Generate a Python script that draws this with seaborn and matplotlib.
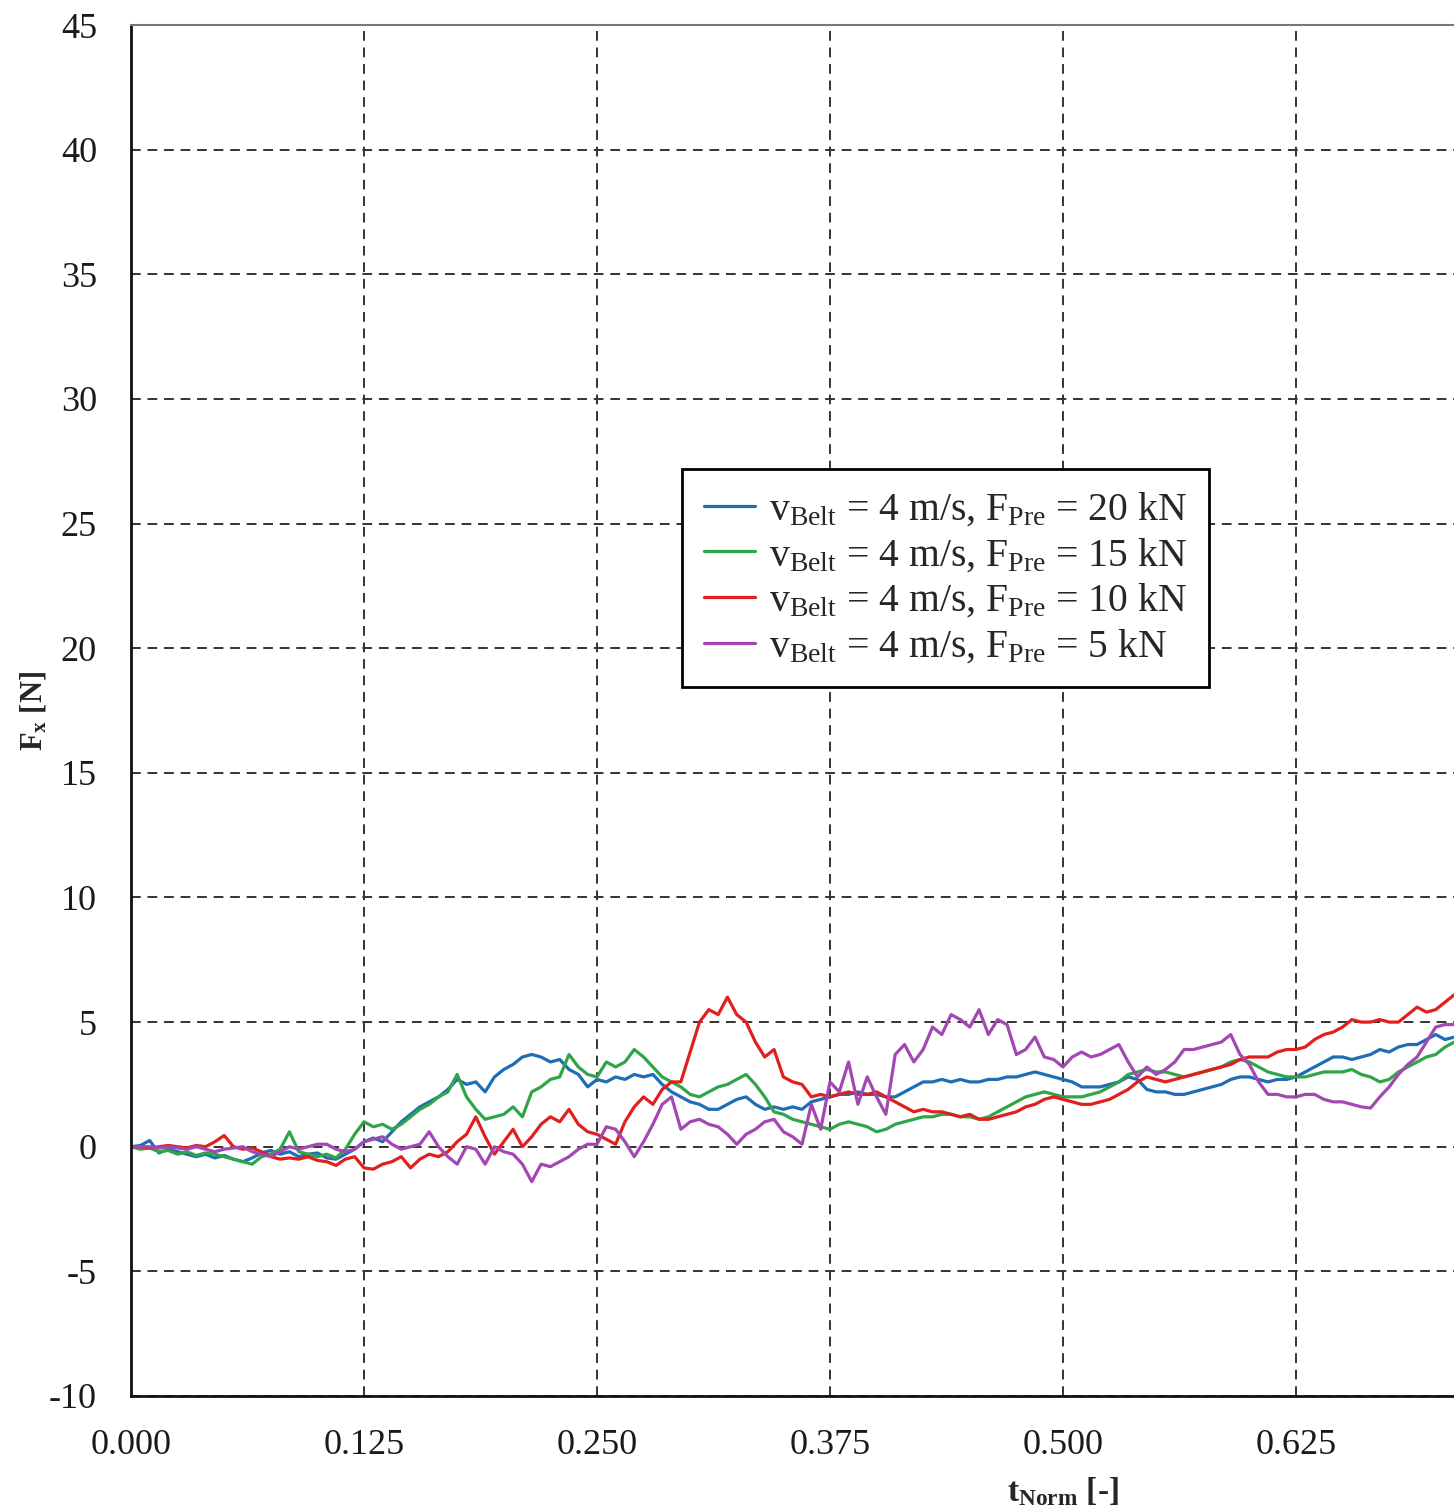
import numpy as np
import pandas as pd
import seaborn as sns
import matplotlib.pyplot as plt

# Messzeitpunkte (normiert), Schrittweite 0.005
t_norm = np.round(np.arange(0, 0.7101, 0.005), 3)

# F_x [N] je Vorspannkraft
fx_20kN = [
    0.0, 0.05, 0.25, -0.25, -0.1, -0.2, -0.3, -0.4, -0.3, -0.45,
    -0.35, -0.5, -0.6, -0.45, -0.25, -0.15, -0.3, -0.2, -0.4, -0.3,
    -0.25, -0.45, -0.5, -0.3, -0.1, 0.2, 0.35, 0.2, 0.6, 1.0,
    1.3, 1.6, 1.8, 2.0, 2.3, 2.7, 2.5, 2.6, 2.2, 2.8,
    3.1, 3.3, 3.6, 3.7, 3.6, 3.4, 3.5, 3.1, 2.9, 2.4,
    2.7, 2.6, 2.8, 2.7, 2.9, 2.8, 2.9, 2.5, 2.2, 2.0,
    1.8, 1.7, 1.5, 1.5, 1.7, 1.9, 2.0, 1.7, 1.5, 1.6,
    1.5, 1.6, 1.5, 1.8, 1.9, 2.0, 2.1, 2.1, 2.2, 2.1,
    2.1, 2.0, 2.0, 2.2, 2.4, 2.6, 2.6, 2.7, 2.6, 2.7,
    2.6, 2.6, 2.7, 2.7, 2.8, 2.8, 2.9, 3.0, 2.9, 2.8,
    2.7, 2.6, 2.4, 2.4, 2.4, 2.5, 2.6, 2.8, 2.7, 2.3,
    2.2, 2.2, 2.1, 2.1, 2.2, 2.3, 2.4, 2.5, 2.7, 2.8,
    2.8, 2.7, 2.6, 2.7, 2.7, 2.8, 3.0, 3.2, 3.4, 3.6,
    3.6, 3.5, 3.6, 3.7, 3.9, 3.8, 4.0, 4.1, 4.1, 4.3,
    4.5, 4.3, 4.4,
]
fx_15kN = [
    0.0, -0.1, -0.05, -0.2, -0.15, -0.3, -0.2, -0.35, -0.25, -0.3,
    -0.4, -0.5, -0.6, -0.7, -0.4, -0.3, -0.1, 0.6, -0.2, -0.3,
    -0.4, -0.3, -0.45, -0.1, 0.5, 1.0, 0.8, 0.9, 0.7, 0.9,
    1.2, 1.5, 1.7, 2.0, 2.2, 2.9, 2.0, 1.5, 1.1, 1.2,
    1.3, 1.6, 1.2, 2.2, 2.4, 2.7, 2.8, 3.7, 3.2, 2.9,
    2.8, 3.4, 3.2, 3.4, 3.9, 3.6, 3.2, 2.8, 2.6, 2.4,
    2.1, 2.0, 2.2, 2.4, 2.5, 2.7, 2.9, 2.5, 2.0, 1.4,
    1.3, 1.1, 1.0, 0.9, 0.8, 0.7, 0.9, 1.0, 0.9, 0.8,
    0.6, 0.7, 0.9, 1.0, 1.1, 1.2, 1.2, 1.3, 1.3, 1.2,
    1.2, 1.1, 1.2, 1.4, 1.6, 1.8, 2.0, 2.1, 2.2, 2.1,
    2.0, 2.0, 2.0, 2.1, 2.2, 2.4, 2.6, 2.9, 3.0, 3.1,
    3.0, 3.0, 2.9, 2.8, 2.9, 3.0, 3.1, 3.2, 3.4, 3.5,
    3.4, 3.2, 3.0, 2.9, 2.8, 2.8, 2.8, 2.9, 3.0, 3.0,
    3.0, 3.1, 2.9, 2.8, 2.6, 2.7, 3.0, 3.2, 3.4, 3.6,
    3.7, 4.0, 4.2,
]
fx_10kN = [
    0.0, 0.0, -0.05, 0.0, 0.05, 0.0, -0.05, 0.05, 0.0, 0.2,
    0.45, 0.0, -0.1, -0.05, -0.2, -0.4, -0.5, -0.45, -0.5, -0.4,
    -0.55, -0.6, -0.75, -0.5, -0.4, -0.85, -0.9, -0.7, -0.6, -0.4,
    -0.85, -0.5, -0.3, -0.4, -0.2, 0.2, 0.5, 1.2, 0.4, -0.3,
    0.2, 0.7, 0.0, 0.4, 0.9, 1.2, 1.0, 1.5, 0.9, 0.6,
    0.5, 0.3, 0.1, 1.0, 1.6, 2.0, 1.7, 2.3, 2.6, 2.6,
    3.8, 5.0, 5.5, 5.3, 6.0, 5.3, 5.0, 4.2, 3.6, 3.9,
    2.8, 2.6, 2.5, 2.0, 2.1, 2.0, 2.1, 2.2, 2.1, 2.1,
    2.2, 2.0, 1.8, 1.6, 1.4, 1.5, 1.4, 1.4, 1.3, 1.2,
    1.3, 1.1, 1.1, 1.2, 1.3, 1.4, 1.6, 1.7, 1.9, 2.0,
    1.9, 1.8, 1.7, 1.7, 1.8, 1.9, 2.1, 2.3, 2.6, 2.8,
    2.7, 2.6, 2.7, 2.8, 2.9, 3.0, 3.1, 3.2, 3.3, 3.5,
    3.6, 3.6, 3.6, 3.8, 3.9, 3.9, 4.0, 4.3, 4.5, 4.6,
    4.8, 5.1, 5.0, 5.0, 5.1, 5.0, 5.0, 5.3, 5.6, 5.4,
    5.5, 5.8, 6.1,
]
fx_5kN = [
    0.0, 0.0, 0.0, -0.05, 0.0, -0.05, -0.1, 0.0, -0.1, -0.2,
    -0.1, -0.05, 0.0, -0.2, -0.3, -0.4, -0.2, 0.0, -0.1, 0.0,
    0.1, 0.1, -0.1, -0.2, -0.1, 0.2, 0.3, 0.4, 0.1, -0.1,
    0.0, 0.1, 0.6, 0.0, -0.4, -0.7, 0.0, -0.1, -0.7, 0.0,
    -0.2, -0.3, -0.7, -1.4, -0.7, -0.8, -0.6, -0.4, -0.1, 0.1,
    0.1, 0.8, 0.7, 0.2, -0.4, 0.2, 0.9, 1.7, 2.0, 0.7,
    1.0, 1.1, 0.9, 0.8, 0.5, 0.1, 0.5, 0.7, 1.0, 1.1,
    0.6, 0.4, 0.1, 1.7, 0.7, 2.6, 2.2, 3.4, 1.7, 2.8,
    2.0, 1.3, 3.7, 4.1, 3.4, 3.9, 4.8, 4.5, 5.3, 5.1,
    4.8, 5.5, 4.5, 5.1, 4.9, 3.7, 3.9, 4.4, 3.6, 3.5,
    3.2, 3.6, 3.8, 3.6, 3.7, 3.9, 4.1, 3.4, 2.8, 3.2,
    2.9, 3.1, 3.4, 3.9, 3.9, 4.0, 4.1, 4.2, 4.5, 3.7,
    3.3, 2.6, 2.1, 2.1, 2.0, 2.0, 2.1, 2.1, 1.9, 1.8,
    1.8, 1.7, 1.6, 1.55, 2.0, 2.4, 2.9, 3.3, 3.6, 4.2,
    4.8, 4.9, 4.9,
]

labels = [
    r'$\mathrm{v_{Belt}}$ = 4 m/s, $\mathrm{F_{Pre}}$ = 20 kN',
    r'$\mathrm{v_{Belt}}$ = 4 m/s, $\mathrm{F_{Pre}}$ = 15 kN',
    r'$\mathrm{v_{Belt}}$ = 4 m/s, $\mathrm{F_{Pre}}$ = 10 kN',
    r'$\mathrm{v_{Belt}}$ = 4 m/s, $\mathrm{F_{Pre}}$ = 5 kN',
]
colors = ['#1f6db5', '#2fa548', '#e0201e', '#a447b5']

frames = []
for lab, vals in zip(labels, [fx_20kN, fx_15kN, fx_10kN, fx_5kN]):
    frames.append(pd.DataFrame({'t': t_norm, 'Fx': vals, 'Serie': lab}))
df = pd.concat(frames, ignore_index=True)

sns.set_style('white')
plt.rcParams['font.family'] = ['Liberation Serif', 'DejaVu Serif']
plt.rcParams['mathtext.fontset'] = 'custom'
plt.rcParams['mathtext.rm'] = 'Liberation Serif'
plt.rcParams['mathtext.it'] = 'Liberation Serif:italic'
plt.rcParams['mathtext.bf'] = 'Liberation Serif:bold'
plt.rcParams['axes.unicode_minus'] = False

fig = plt.figure(figsize=(14.54, 15.06), dpi=100)
ax = fig.add_axes([131 / 1454, 110 / 1506, 1 - 131 / 1454, 1371 / 1506])

sns.lineplot(data=df, x='t', y='Fx', hue='Serie', palette=colors,
             linewidth=2.3, ax=ax, legend=False)

# Achsen wie im Original (rechts abgeschnitten)
ax.set_xlim(0, 0.7098)
ax.set_ylim(-10, 45)
ax.set_xticks([0, 0.125, 0.25, 0.375, 0.5, 0.625])
ax.set_xticklabels(['0.000', '0.125', '0.250', '0.375', '0.500', '0.625'])
ax.set_yticks(range(-10, 46, 5))
ax.tick_params(direction='inout', length=9, width=1.5, labelsize=26,
               colors='#1a1a1a')
ax.tick_params(axis='x', pad=19)
ax.tick_params(axis='y', pad=20)

ax.grid(True, linestyle=(0, (5, 3.5)), color='#333333', linewidth=1.4)
for s in ['left', 'bottom']:
    ax.spines[s].set_color('#111111')
    ax.spines[s].set_linewidth(2)
ax.spines['top'].set_color('#777777')
ax.spines['top'].set_linewidth(1.5)
ax.spines['right'].set_visible(False)

ax.set_xlabel(r'$\mathbf{t_{Norm}}$ [-]', fontsize=24, fontweight='bold')
ax.xaxis.set_label_coords(0.5 / 0.7098, -0.058)
ax.set_ylabel(r'$\mathbf{F_x}$ [N]', fontsize=22, fontweight='bold')
ax.yaxis.set_label_coords(-0.0627, 0.5)

handles = [plt.Line2D([], [], color=c, linewidth=2.3) for c in colors]
leg = ax.legend(handles, labels, loc='upper left',
                bbox_to_anchor=(0.4165, 0.6761), fontsize=28.5,
                fancybox=False, framealpha=1, edgecolor='black',
                handlelength=1.3, handletextpad=0.35, labelspacing=0.2,
                borderpad=0.55, borderaxespad=0)
leg.get_frame().set_linewidth(2)

fig.savefig('out.png', dpi=100)
